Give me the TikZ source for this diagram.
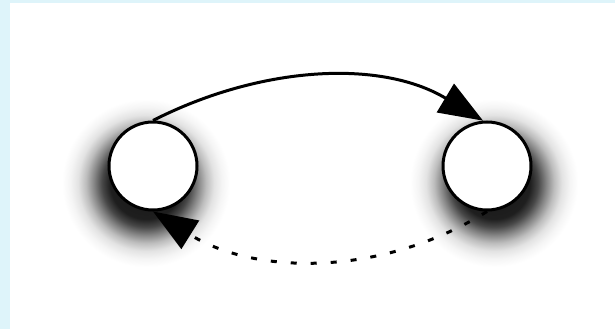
\documentclass[tikz,border=0pt]{standalone}
\usetikzlibrary{arrows.meta}
\definecolor{framecyan}{RGB}{222,244,250}
% radial shading: 25bp corresponds to the radius of the shaded circle
\pgfdeclareradialshading{shadowball}{\pgfpoint{0bp}{0bp}}{%
  color(0bp)=(black!92); color(9bp)=(black!88); color(11bp)=(black!72);
  color(13bp)=(black!48); color(15bp)=(black!26); color(17bp)=(black!11);
  color(19bp)=(black!4); color(21bp)=(white); color(50bp)=(white)}
\tikzset{
  state/.style={circle, draw=black, fill=white, line width=3pt, minimum size=88pt, inner sep=0pt},
  conn/.style={line width=3pt, -{Triangle[length=44pt,width=33pt]}},
  dashconn/.style={conn, dash pattern=on 6pt off 14pt},
  shadowdisc/.style={shading=shadowball}
}
\begin{document}
\begin{tikzpicture}[x=1pt,y=1pt]
  \useasboundingbox (0,0) rectangle (615,329);
  \fill[framecyan] (0,0) rectangle (615,329);
  \fill[white] (10,0) rectangle (615,326);
  % shadows
  \shade[shadowdisc] (146,146) circle (100);
  \shade[shadowdisc] (494,146) circle (100);
  % nodes
  \node[state] (L) at (153,163) {};
  \node[state] (R) at (487,163) {};
  % connectors
  \draw[conn] (L.north) .. controls +(27:120) and +(149:120) .. (R.95);
  \draw[dashconn] (R.south) .. controls +(212:122) and +(-32:122) .. (L.south);
\end{tikzpicture}
\end{document}
